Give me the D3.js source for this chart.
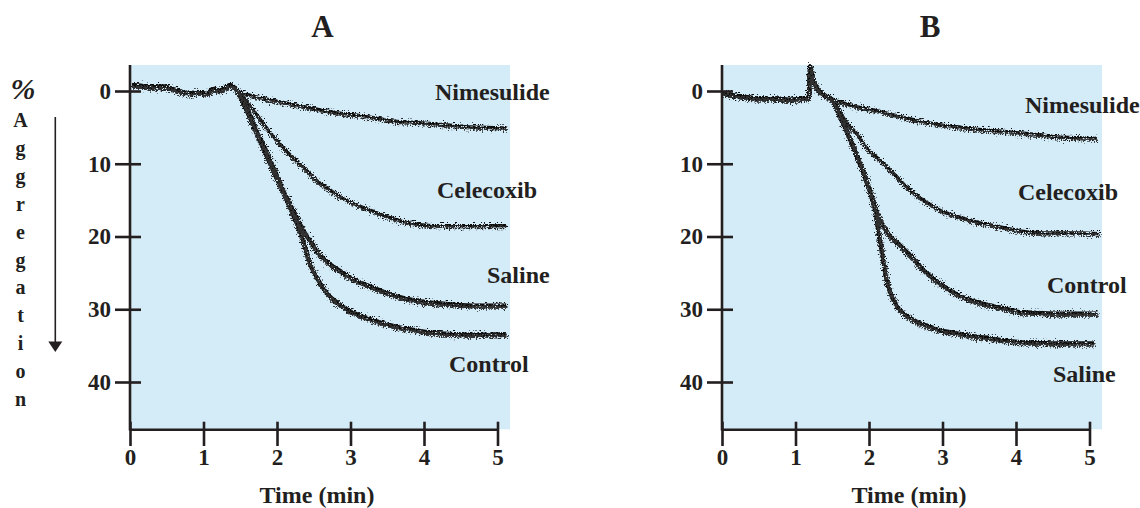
<!DOCTYPE html>
<html>
<head>
<meta charset="utf-8">
<script src="https://cdn.jsdelivr.net/npm/d3@7"></script>
<style>
  html, body { margin: 0; padding: 0; background: #ffffff; }
  svg { display: block; }
  text { font-family: "Liberation Serif", "Times New Roman", serif; font-weight: bold; fill: #231f20; }
</style>
</head>
<body>
<svg id="chart" width="1140" height="508"></svg>
<script>
// ---------------- data ----------------
const timeTicks = [0, 1, 2, 3, 4, 5];
const aggTicks = [0, 10, 20, 30, 40];
const panelTitles = ["A", "B"];
const yLabelChars = ["A", "g", "g", "r", "e", "g", "a", "t", "i", "o", "n"];

// Panel A: common baseline before agonist
const baseA_t = [0.03, 0.15, 0.3, 0.45, 0.6, 0.82, 0.95, 1.05, 1.13, 1.22, 1.3, 1.36, 1.45];
const baseA_v = [-0.8, -0.7, -0.5, -0.6, -0.2, 0.3, 0.2, 0.4, -0.3, 0.0, -0.5, -0.8, -0.1];

const nimA_t = [1.6, 1.81, 2.05, 2.29, 2.5, 2.75, 3.0, 3.22, 3.45, 3.67, 3.9, 4.13, 4.35, 4.58, 4.85, 5.12];
const nimA_v = [0.5, 1.0, 1.5, 2.0, 2.4, 2.9, 3.2, 3.5, 3.9, 4.2, 4.3, 4.5, 4.7, 4.9, 5.0, 5.1];

const celA_t = [1.55, 1.63, 1.75, 1.9, 2.05, 2.2, 2.35, 2.54, 2.72, 2.9, 3.1, 3.3, 3.5, 3.7, 3.9, 4.1, 4.4, 4.7, 5.12];
const celA_v = [0.9, 2.0, 3.6, 5.6, 7.4, 9.0, 10.4, 12.3, 13.6, 14.8, 15.7, 16.5, 17.3, 17.9, 18.3, 18.5, 18.5, 18.5, 18.5];

const salA_t = [1.52, 1.63, 1.72, 1.81, 1.95, 2.09, 2.22, 2.35, 2.45, 2.59, 2.72, 2.9, 3.04, 3.2, 3.4, 3.63, 3.9, 4.1, 4.35, 4.7, 5.12];
const salA_v = [1.0, 3.3, 5.5, 7.3, 10.5, 13.8, 16.4, 19.0, 20.6, 22.6, 23.8, 25.0, 25.9, 26.6, 27.4, 28.2, 28.8, 29.1, 29.3, 29.5, 29.5];

const conA_t = [1.52, 1.63, 1.72, 1.81, 1.95, 2.09, 2.2, 2.3, 2.38, 2.45, 2.55, 2.68, 2.85, 3.0, 3.17, 3.4, 3.63, 3.9, 4.1, 4.4, 4.7, 5.12];
const conA_v = [1.2, 3.7, 5.8, 7.8, 11.0, 14.1, 16.6, 19.0, 21.5, 23.8, 25.8, 27.8, 29.3, 30.3, 31.0, 31.8, 32.4, 32.9, 33.2, 33.4, 33.5, 33.4];

// Panel B: common baseline (with the injection artefact spike)
const baseB_t = [0.01, 0.15, 0.3, 0.45, 0.65, 0.8, 0.91, 1.05, 1.15, 1.18, 1.2, 1.23, 1.27, 1.31, 1.38, 1.5];
const baseB_v = [0.3, 0.6, 0.8, 1.0, 1.0, 1.1, 1.2, 1.1, 1.0, 0.9, -3.4, -1.8, -0.8, -0.1, 0.5, 1.2];

const nimB_t = [1.6, 1.81, 2.05, 2.27, 2.5, 2.72, 2.95, 3.19, 3.42, 3.65, 3.9, 4.1, 4.33, 4.55, 4.8, 5.1];
const nimB_v = [1.5, 2.1, 2.6, 3.1, 3.7, 4.2, 4.6, 4.9, 5.2, 5.4, 5.6, 5.8, 6.0, 6.3, 6.4, 6.5];

const celB_t = [1.6, 1.72, 1.83, 1.95, 2.06, 2.18, 2.29, 2.4, 2.51, 2.63, 2.74, 2.95, 3.19, 3.42, 3.65, 3.9, 4.1, 4.35, 4.6, 4.85, 5.13];
const celB_v = [2.8, 4.7, 5.8, 7.6, 8.7, 9.8, 10.9, 12.0, 13.2, 14.2, 15.0, 16.3, 17.2, 17.9, 18.4, 18.9, 19.3, 19.5, 19.5, 19.5, 19.6];

const conB_t = [1.58, 1.7, 1.81, 1.9, 1.97, 2.04, 2.1, 2.2, 2.29, 2.4, 2.5, 2.6, 2.7, 2.85, 3.0, 3.17, 3.4, 3.62, 3.85, 4.07, 4.3, 4.55, 4.8, 5.11];
const conB_v = [2.8, 5.5, 8.3, 10.6, 12.5, 14.5, 16.5, 18.6, 20.0, 21.0, 22.0, 23.0, 24.2, 25.6, 26.7, 27.8, 28.8, 29.4, 29.9, 30.4, 30.5, 30.6, 30.6, 30.6];

const salB_t = [1.58, 1.7, 1.81, 1.9, 1.97, 2.04, 2.09, 2.13, 2.18, 2.24, 2.3, 2.38, 2.47, 2.58, 2.69, 2.83, 2.97, 3.15, 3.4, 3.6, 3.85, 4.05, 4.33, 4.6, 4.85, 5.06];
const salB_v = [2.8, 5.6, 8.3, 10.6, 12.6, 14.8, 16.8, 19.4, 22.5, 26.0, 28.0, 29.6, 30.6, 31.3, 31.9, 32.4, 32.9, 33.2, 33.7, 33.9, 34.3, 34.5, 34.6, 34.7, 34.7, 34.7];

const seriesNamesA = ["Nimesulide", "Celecoxib", "Saline", "Control"];
const seriesNamesB = ["Nimesulide", "Celecoxib", "Control", "Saline"];

// ---------------- layout ----------------
const ink = "#231f20";
const bgColor = "#d4ebf8";
const svg = d3.select("#chart");

const defs = svg.append("defs");
function addRough(id, seed, freq, scale) {
  const f = defs.append("filter").attr("id", id)
    .attr("filterUnits", "userSpaceOnUse")
    .attr("x", 0).attr("y", 0).attr("width", 1140).attr("height", 508);
  f.append("feTurbulence").attr("type", "fractalNoise").attr("baseFrequency", freq)
    .attr("numOctaves", 2).attr("seed", seed).attr("result", "noise");
  f.append("feDisplacementMap").attr("in", "SourceGraphic").attr("in2", "noise")
    .attr("scale", scale).attr("xChannelSelector", "R").attr("yChannelSelector", "G");
}
addRough("rough1", 4, "1.0 0.5", 11);
addRough("rough2", 11, "0.85 0.6", 10);

const zip = (ts, vs) => ts.map((t, i) => ({ t: t, v: vs[i] }));

const panels = [
  {
    title: panelTitles[0], x0: 130, x5: 497.5, bgRight: 510, titleX: 322.5,
    base: zip(baseA_t, baseA_v),
    series: [zip(nimA_t, nimA_v), zip(celA_t, celA_v), zip(salA_t, salA_v), zip(conA_t, conA_v)],
    names: seriesNamesA,
    labelPos: [[435, 100], [437, 198], [487, 283], [449, 372]]
  },
  {
    title: panelTitles[1], x0: 722, x5: 1089.5, bgRight: 1102, titleX: 930,
    base: zip(baseB_t, baseB_v),
    series: [zip(nimB_t, nimB_v), zip(celB_t, celB_v), zip(conB_t, conB_v), zip(salB_t, salB_v)],
    names: seriesNamesB,
    labelPos: [[1025, 113], [1018, 200], [1047, 293], [1053, 382]]
  }
];

const yTop = 65, yAxis = 429.3;

panels.forEach(p => {
  const x = d3.scaleLinear().domain([0, 5]).range([p.x0, p.x5]);
  const y = d3.scaleLinear().domain([0, 40]).range([91, 382]);
  const g = svg.append("g");

  // background
  g.append("rect").attr("x", p.x0).attr("y", yTop)
    .attr("width", p.bgRight - p.x0).attr("height", yAxis - yTop)
    .attr("fill", bgColor);

  // traces (each condition recorded twice, so two overlapping jagged traces)
  const line = d3.line().x(d => x(d.t)).y(d => y(d.v)).curve(d3.curveMonotoneX);
  const t1 = g.append("g").attr("filter", "url(#rough1)");
  const t2 = g.append("g").attr("filter", "url(#rough2)");
  p.series.forEach((s, i) => {
    const pts = p.base.concat(s);
    const w = i >= 2 ? 4.2 : 3.2;
    t1.append("path").datum(pts).attr("d", line)
      .attr("fill", "none").attr("stroke", "#0a0a0a").attr("stroke-width", w)
      .attr("stroke-linejoin", "round");
    t2.append("path").datum(pts).attr("d", line)
      .attr("fill", "none").attr("stroke", "#303030").attr("stroke-width", w - 1)
      .attr("stroke-linejoin", "round").attr("transform", "translate(0.6,1.6)");
  });

  // y axis
  const yAx = g.append("g").attr("transform", `translate(${p.x0},0)`)
    .call(d3.axisLeft(y).tickValues(aggTicks).tickFormat(d3.format("d"))
      .tickSize(15).tickSizeOuter(0).tickPadding(4));
  yAx.select(".domain").remove();
  yAx.selectAll(".tick line").attr("x2", -15).attr("x1", 11).attr("stroke", ink).attr("stroke-width", 2.6);
  yAx.selectAll(".tick text").attr("font-size", 23).attr("fill", ink)
    .style("font-family", '"Liberation Serif", "Times New Roman", serif').style("font-weight", "bold");
  g.append("line").attr("x1", p.x0).attr("x2", p.x0).attr("y1", yTop).attr("y2", yAxis + 1.3)
    .attr("stroke", ink).attr("stroke-width", 2.6);

  // x axis
  const xAx = g.append("g").attr("transform", `translate(0,${yAxis})`)
    .call(d3.axisBottom(x).tickValues(timeTicks).tickFormat(d3.format("d"))
      .tickSize(16.7).tickSizeOuter(0).tickPadding(2.7));
  xAx.select(".domain").attr("stroke", ink).attr("stroke-width", 2.6);
  xAx.selectAll(".tick line").attr("y1", -7.6).attr("stroke", ink).attr("stroke-width", 2.6);
  xAx.selectAll(".tick text").attr("font-size", 23).attr("fill", ink)
    .style("font-family", '"Liberation Serif", "Times New Roman", serif').style("font-weight", "bold");

  // x axis title
  g.append("text").attr("x", (p.x0 + p.bgRight) / 2 - 3).attr("y", 503)
    .attr("text-anchor", "middle").attr("font-size", 24).text("Time (min)");

  // panel title
  g.append("text").attr("x", p.titleX).attr("y", 36.5).attr("text-anchor", "middle")
    .attr("font-size", 31).text(p.title);

  // series labels
  p.names.forEach((n, i) => {
    g.append("text").attr("x", p.labelPos[i][0]).attr("y", p.labelPos[i][1])
      .attr("font-size", 24).text(n);
  });
});

// y axis label (panel A only): "%" and vertical letters with arrow
svg.append("text").attr("x", 23).attr("y", 99).attr("text-anchor", "middle")
  .attr("font-size", 30).style("font-style", "italic").text("%");
yLabelChars.forEach((c, i) => {
  svg.append("text").attr("x", 20.5).attr("y", 127 + i * 27.9).attr("text-anchor", "middle")
    .attr("font-size", 20).text(c);
});
svg.append("line").attr("x1", 55.3).attr("x2", 55.3).attr("y1", 117).attr("y2", 343)
  .attr("stroke", ink).attr("stroke-width", 1.6);
svg.append("path").attr("d", "M48.3,341.5 L62.3,341.5 L55.3,352 Z").attr("fill", ink);
</script>
</body>
</html>
